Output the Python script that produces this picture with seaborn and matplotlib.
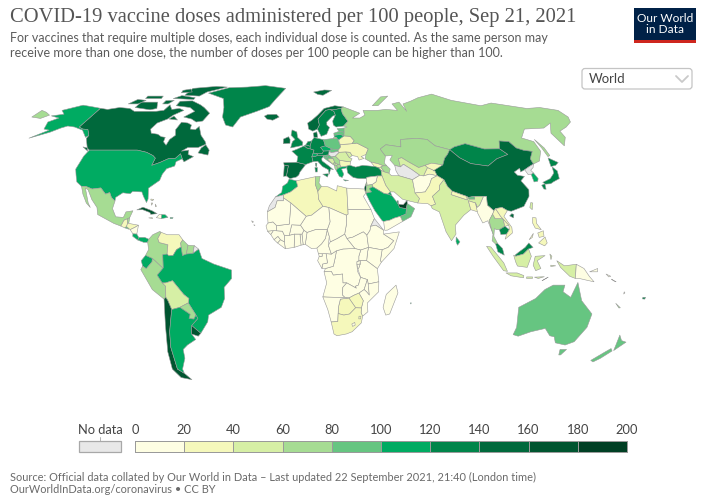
import numpy as np
import pandas as pd
import matplotlib
matplotlib.use("Agg")
import matplotlib.pyplot as plt
from matplotlib.colors import ListedColormap
from matplotlib.patches import FancyBboxPatch, Rectangle
import seaborn as sns

# --- 1. TEXT & LEGEND DATA ---
title = "COVID-19 vaccine doses administered per 100 people, Sep 21, 2021"
subtitle = ("For vaccines that require multiple doses, each individual dose is counted. As the same person may\n"
            "receive more than one dose, the number of doses per 100 people can be higher than 100.")
source = ("Source: Official data collated by Our World in Data \u2013 Last updated 22 September 2021, 21:40 (London time)\n"
          "OurWorldInData.org/coronavirus \u2022 CC BY")
bin_edges = [0, 20, 40, 60, 80, 100, 120, 140, 160, 180, 200]
bin_colors = ["#fefee3", "#f5f8bb", "#d6efa5", "#a6dc93", "#66c581", "#00ab62",
              "#00854a", "#00693c", "#005530", "#003f24"]
no_data_color = "#e8e8e8"

# --- 2. DOSES PER 100 PEOPLE (read from the map colours, None = no data) ---
doses = {
    "Canada": 145, "USA": 110, "Greenland": 125, "Iceland": 145, "Mexico": 70, "Guatemala": 30, "Belize": 70,
    "El Salvador": 90, "Honduras": 30, "Nicaragua": 10, "Costa Rica": 110, "Panama": 110, "Cuba": 165, "Haiti": 1,
    "Dominican Rep": 110, "Jamaica": 30, "Puerto Rico": 110, "Bahamas": 30, "Colombia": 70, "Venezuela": 30,
    "Guyana": 70, "Suriname": 70,
    "French Guiana": None, "Ecuador": 110, "Peru": 70, "Brazil": 110, "Bolivia": 50, "Paraguay": 70, "Chile": 165,
    "Argentina": 110, "Uruguay": 165, "Spain": 145, "Portugal": 145, "France": 125, "UK": 130, "Ireland": 145,
    "Netherlands": 125, "Belgium": 130, "Germany": 125, "Denmark": 145, "Switzerland": 110, "Austria": 120,
    "Italy": 130, "Czechia": 110, "Poland": 95, "Slovakia": 85, "Hungary": None, "Slovenia": 95, "Croatia": 85,
    "Bosnia": 45, "Serbia": 75, "Montenegro": 65, "Kosovo": 55, "Albania": 65, "N Macedonia": 65, "Greece": 110,
    "Bulgaria": 35, "Romania": 50, "Moldova": 40, "Ukraine": 30, "Belarus": 30, "Lithuania": 100, "Latvia": 90,
    "Estonia": 90, "Norway": 145, "Sweden": 125, "Finland": 130, "Russia": 70, "Georgia": 30, "Armenia": 30,
    "Azerbaijan": 60, "Turkey": 125, "Kazakhstan": 70, "Uzbekistan": 40, "Turkmenistan": None, "Tajikistan": 30,
    "Kyrgyzstan": 30, "Mongolia": 125, "China": 150, "Taiwan": 50, "North Korea": None, "South Korea": 110,
    "Japan": 125, "Iran": 50, "Iraq": 25, "Syria": 15, "Israel": 170, "Jordan": 70, "Lebanon": 60,
    "Saudi Arabia": 110, "Kuwait": 100, "Qatar": 130, "UAE": 185, "Oman": 90, "Yemen": 5, "Afghanistan": 10,
    "Pakistan": 30, "India": 50, "Nepal": 30, "Bhutan": 90, "Bangladesh": 25, "Sri Lanka": 110, "Myanmar": 15,
    "Thailand": 65, "Laos": 30, "Cambodia": 125, "Vietnam": 35, "Malaysia": 130, "Indonesia": 50, "PNG": 5,
    "Philippines": 35, "Australia": 85, "New Zealand": 90, "Fiji": 120, "New Caledonia": 70, "Vanuatu": 10,
    "Solomon Islands": 5, "Morocco": 110, "Western Sahara": None, "Algeria": 25, "Tunisia": 60, "Libya": 25,
    "Egypt": 15, "Sudan": 5, "South Sudan": 2, "Eritrea": None, "Ethiopia": 5, "Somalia": 2, "Kenya": 5, "Uganda": 5,
    "Tanzania": 2, "Rwanda": 15, "Burundi": 1, "DR Congo": 1, "Congo": 5, "Gabon": 10, "Eq Guinea": 15,
    "Cameroon": 3, "CAR": 2, "Chad": 1, "Niger": 2, "Nigeria": 3, "Benin": 3, "Togo": 10, "Ghana": 5,
    "Burkina Faso": 3, "Ivory Coast": 8, "Liberia": 3, "Sierra Leone": 3, "Guinea": 10, "Guinea-Bissau": 2,
    "Senegal": 10, "Mali": 2, "Mauritania": 10, "Cape Verde": 10, "Angola": 10, "Zambia": 5, "Malawi": 5,
    "Mozambique": 10, "Zimbabwe": 35, "Botswana": 30, "Namibia": 15, "South Africa": 30, "Lesotho": 15,
    "Eswatini": 25, "Madagascar": 1, "Mauritius": 110,
}

# --- 3. COUNTRY OUTLINES (lon, lat, simplified by hand) ---
outlines = {
    "Canada": [
        [(-141,69.6),(-135,69),(-128,70),(-120,69.5),(-115,68),(-108,68),(-100,68),(-95,68.5),(-94,71.5),(-90,69),(-85,69.5),(-81,68.5),(-86,66),(-88,64),(-93,62),(-94.5,59),(-92.5,57),(-88,56.5),(-85,55.3),(-82.3,55),(-82,52.9),(-79.5,51.3),(-79,54),(-76.7,56),(-78.5,58.7),(-77.5,62.4),(-73,62),(-70,61),(-69.5,59),(-66,58.7),(-64.5,60.3),(-61,56),(-57,53),(-56,51.8),(-60,50.2),(-66,50.2),(-69,48.5),(-65,49),(-64.5,47),(-61,46),(-65.5,43.6),(-67,45),(-69,47.3),(-71,45.2),(-75,45),(-79,43.3),(-83,42),(-82.5,45.3),(-84.5,46.5),(-89,48),(-95,49),(-123,49),(-125,50),(-130,54.5),(-130,55.9),(-134,58.8),(-137.5,59),(-141,60)],
        [(-80,73.7),(-72,71.5),(-68,70),(-62,67),(-64,63),(-68,62.5),(-72,64),(-78,65),(-73,68),(-78,70),(-89,71),(-89,73.5)],
        [(-117,70),(-105,68.8),(-101,69.5),(-105,73),(-117,73)], [(-125,72),(-118,72),(-115,74),(-122,74.5)],
        [(-90,77),(-78,76.5),(-75,79),(-62,82.5),(-72,83),(-90,81.5)], [(-96,75),(-80,74.5),(-80,75.5),(-92,76.8)],
        [(-117,75),(-105,75),(-106,76.5),(-118,76.5)], [(-95,78.5),(-87,79),(-91,81),(-96,80)],
        [(-100,72),(-96,72),(-94,74),(-100,73.8)], [(-59,47.7),(-53,46.7),(-53,49),(-56,51.5),(-58,50)],
        [(-128,50.5),(-123.5,48.5),(-125,50)], [(-87,64),(-81,63.5),(-85,65.5)],
    ],
    "USA": [
        [(-123,49),(-95,49),(-89,48),(-84.5,46.5),(-82.5,45.3),(-83,42),(-79,43.3),(-75,45),(-71,45.2),(-69,47.3),(-67,45),(-70,43.7),(-70,41.7),(-74,40.5),(-75.5,38),(-76,35.2),(-81,31.7),(-80,26.8),(-80.5,25.2),(-82.7,28),(-84,30),(-89,30.2),(-90,29.2),(-94,29.6),(-97.3,27.5),(-97.2,25.9),(-99.5,27.5),(-101,29.7),(-103,29),(-106.5,31.8),(-111,31.3),(-114.8,32.5),(-117.1,32.5),(-120.5,34.5),(-122.5,37.5),(-124.3,40.3),(-124,46.2)],
        [(-141,69.6),(-148,70.4),(-156.5,71.3),(-166,68.5),(-161,66.5),(-168,65.6),(-161,64.5),(-165,62.5),(-162,59),(-158,58.5),(-165,54.6),(-156,57.5),(-152,59.5),(-149,60.5),(-144,60),(-137,58.5),(-131,55),(-130,55.9),(-134,58.8),(-137.5,59),(-141,60)],
    ],
    "Greenland": [[(-73,78.3),(-60,82),(-45,82.5),(-30,83.6),(-12,81.5),(-18,75),(-22,70.5),(-30,68),(-40,65),(-43,60),(-48,61),(-52,65),(-54,70),(-58,75)]],
    "Iceland": [[(-24,65.5),(-22,64),(-18,63.4),(-14,65),(-16,66.4),(-22,66.3)]],
    "Mexico": [[(-117.1,32.5),(-114.8,32.5),(-111,31.3),(-106.5,31.8),(-103,29),(-101,29.7),(-99.5,27.5),(-97.2,25.9),(-97.8,22.5),(-95.5,18.8),(-91.5,18.5),(-90.5,21),(-87,21.5),(-88.2,18.4),(-89.2,17.9),(-91,17.2),(-92.2,14.6),(-96,15.8),(-105,19.8),(-106,23),(-109.5,26.5),(-113,31),(-114.7,31.7),(-111,25),(-109.5,23),(-112,25),(-115,29)]],
    "Guatemala": [[(-92.2,14.6),(-91,17.2),(-89.2,17.9),(-88.9,15.9),(-89.3,14.4),(-90.1,13.8)]],
    "Belize": [[(-89.2,17.9),(-88.2,18.4),(-88.3,16),(-88.9,15.9)]],
    "El Salvador": [[(-90.1,13.8),(-89.3,14.4),(-87.7,13.8),(-88,13.2)]],
    "Honduras": [[(-89.3,14.4),(-88.9,15.9),(-83.2,15),(-85,14),(-87.3,13)]],
    "Nicaragua": [[(-87.3,13),(-85,14),(-83.2,15),(-83.7,11),(-85.7,11.1)]],
    "Costa Rica": [[(-85.7,11.1),(-83.7,11),(-82.6,9.5),(-83,8.3),(-85.7,10)]],
    "Panama": [[(-83,8.3),(-82.6,9.5),(-79.5,9.5),(-77.4,8.7),(-78,7.3),(-80,7.3)]],
    "Cuba": [[(-85,21.9),(-82,23.1),(-77,21.5),(-74.2,20.2),(-77.5,19.9),(-78,20.7),(-82,22)]],
    "Haiti": [[(-74.4,18.4),(-71.7,18),(-71.7,19.8),(-73,19.9)]],
    "Dominican Rep": [[(-71.7,18),(-68.4,18.5),(-69.9,19.7),(-71.7,19.8)]],
    "Jamaica": [[(-78.3,18.3),(-76.3,18),(-76.5,18.4)]],
    "Puerto Rico": [[(-67.2,18.5),(-65.7,18.4),(-66,18),(-67.2,18)]],
    "Bahamas": [[(-78.5,26.8),(-77,26.6),(-77.5,26),(-78.5,26.4)], [(-78,25),(-77.2,25),(-77.6,24)], [(-75.8,24.5),(-75,23.5),(-75.5,23.3)]],
    "Colombia": [[(-77.4,8.7),(-75.5,10.7),(-72,12.2),(-71.3,11.8),(-72.8,9),(-72,7.2),(-67.5,6.2),(-67.8,2),(-70,1.7),(-69.8,-4.2),(-70.7,-3.8),(-74,-1),(-75.3,0),(-78.8,1.4),(-77.3,4),(-77.9,7.3)]],
    "Venezuela": [[(-71.3,11.8),(-68,10.7),(-62,10.7),(-60,8.4),(-61,7),(-60.7,5.2),(-63,4),(-64.8,1.3),(-67,1.2),(-67.8,2),(-67.5,6.2),(-72,7.2),(-72.8,9)]],
    "Guyana": [[(-60,8.4),(-57.2,6),(-58,2),(-60,1.3),(-60.7,5.2),(-61,7)]],
    "Suriname": [[(-57.2,6),(-54,5.8),(-54.6,2.3),(-58,2)]],
    "French Guiana": [[(-54,5.8),(-51.7,4.2),(-54.6,2.3)]],
    "Ecuador": [[(-78.8,1.4),(-75.3,0),(-75.5,-1.5),(-78.5,-4.6),(-80.3,-3.4),(-81,-1)]],
    "Peru": [[(-80.3,-3.4),(-78.5,-4.6),(-75.5,-1.5),(-75.3,0),(-74,-1),(-70.7,-3.8),(-69.8,-4.2),(-73,-7.5),(-70.6,-11),(-69,-12.5),(-69.4,-17.5),(-70.4,-18.3),(-76,-14),(-81.3,-5)]],
    "Brazil": [[(-51.7,4.2),(-50,0),(-44,-2.5),(-35,-5.2),(-35,-9),(-39,-13),(-39,-18),(-41,-22),(-48,-25.5),(-48.8,-28.5),(-53.4,-33.7),(-57.6,-30.2),(-53.8,-27),(-54.6,-25.5),(-55.5,-24),(-58,-20),(-57.5,-18),(-60,-16.2),(-65.3,-10),(-69,-11),(-70.6,-11),(-73,-7.5),(-69.8,-4.2),(-70,1.7),(-67.8,2),(-67,1.2),(-64.8,1.3),(-63,4),(-60.7,5.2),(-60,1.3),(-58,2),(-54.6,2.3)]],
    "Bolivia": [[(-69,-11),(-65.3,-10),(-60,-16.2),(-57.5,-18),(-58,-20),(-62.6,-22),(-67,-23),(-68.5,-19),(-69.4,-17.5),(-69,-12.5),(-70.6,-11)]],
    "Paraguay": [[(-58,-20),(-55.5,-24),(-54.6,-25.5),(-56,-27.3),(-58.5,-27),(-57.6,-25.2),(-62.6,-22)]],
    "Chile": [[(-70.4,-18.3),(-69.4,-17.5),(-68.5,-19),(-67,-23),(-70,-33),(-71.5,-40),(-72,-50),(-69,-52),(-66,-55),(-72,-54),(-75,-50),(-74,-42),(-71.5,-30)]],
    "Argentina": [[(-67,-23),(-62.6,-22),(-57.6,-25.2),(-58.5,-27),(-56,-27.3),(-54.6,-25.5),(-53.8,-27),(-57.6,-30.2),(-58.4,-34),(-56.8,-36.5),(-62,-39),(-65,-41),(-65.5,-45),(-69,-50),(-69,-52),(-72,-50),(-71.5,-40),(-70,-33)]],
    "Uruguay": [[(-57.6,-30.2),(-53.4,-33.7),(-55,-35),(-58.4,-34)]],
    "Spain": [[(-9.2,43.2),(-1.8,43.4),(3.2,42.4),(0,39),(-0.7,37.6),(-2,36.7),(-5.5,36),(-7.4,37.2),(-7,39.5),(-6.5,41.8),(-8.8,41.9)]],
    "Portugal": [[(-8.8,41.9),(-6.5,41.8),(-7,39.5),(-7.4,37.2),(-9,37)]],
    "France": [[(-1.8,43.4),(3.2,42.4),(7.4,43.7),(6.8,46),(7.6,47.6),(8.2,49),(6,49.6),(4,50),(2.5,51),(-1.5,49.5),(-4.7,48.5),(-1.2,46)], [(8.6,43),(9.5,43),(9.3,41.5),(8.8,41.6)]],
    "UK": [[(-5.5,50),(1.4,51.2),(1.7,52.7),(-1.5,55),(-2,57.6),(-5,58.6),(-5.5,56),(-3,54),(-4.5,53),(-5,51.7)]],
    "Ireland": [[(-10,52),(-6,52.2),(-6,54),(-7,55.3),(-10,54.2)]],
    "Netherlands": [[(3.4,51.4),(6,50.8),(7,53.3),(4.7,53)]],
    "Belgium": [[(2.5,51),(3.4,51.4),(6,50.8),(6,49.6),(4,50)]],
    "Germany": [[(6,50.8),(7,53.3),(8.6,54.9),(14.2,53.9),(15,51),(12.1,50.3),(13.7,48.6),(13,47.5),(9.5,47.5),(7.6,47.6),(8.2,49),(6,49.6)]],
    "Denmark": [[(8.2,57),(10.5,57.7),(10.8,55),(8.6,54.9)]],
    "Switzerland": [[(6.8,46),(7.6,47.6),(9.5,47.5),(10.4,46.6),(8.5,46)]],
    "Austria": [[(9.5,47.5),(13,47.5),(13.7,48.6),(17,48.7),(16.5,46.8),(13.7,46.5),(10.4,46.6)]],
    "Italy": [[(6.8,46),(8.5,46),(10.4,46.6),(13.7,46.5),(12.3,45),(12.5,44),(16,41.8),(18.5,40),(17,40.4),(16,38),(15.7,40),(12.5,41.5),(10,43.9),(7.4,43.7)], [(12.5,38),(15.6,38.2),(15,36.7)], [(8.3,41),(9.7,41),(9.5,39),(8.5,39)]],
    "Czechia": [[(12.1,50.3),(15,51),(18.8,49.5),(17,48.7),(13.7,48.6)]],
    "Poland": [[(14.2,53.9),(19.5,54.4),(23,54.3),(23.5,52.5),(24,50.5),(22.5,49.1),(18.8,49.5),(15,51)]],
    "Slovakia": [[(17,48.7),(18.8,49.5),(22.5,49.1),(22,48.4),(18,47.8)]],
    "Hungary": [[(16.5,46.8),(17,48.7),(18,47.8),(22,48.4),(22.8,48),(20.3,46.2),(18,45.8)]],
    "Slovenia": [[(13.7,46.5),(16.5,46.8),(15.5,45.5),(13.6,45.5)]],
    "Croatia": [[(13.6,45.5),(15.5,45.5),(16.5,46.8),(18,45.8),(19,45),(16,45),(16,44.5),(18.5,42.5),(15,44.5)]],
    "Bosnia": [[(16,45),(19,45),(19.5,43.5),(18.5,42.5),(16,44.5)]],
    "Serbia": [[(19,45),(18,45.8),(20.3,46.2),(22.5,44.3),(22.4,42.3),(21.6,42.4),(20,42.8),(19.5,43.5)]],
    "Montenegro": [[(18.5,42.5),(19.5,43.5),(20,42.8),(19.3,41.9)]],
    "Kosovo": [[(20,42.8),(21.6,42.4),(20.5,42),(19.3,41.9)]],
    "Albania": [[(19.3,41.9),(20.5,42),(21,40.6),(20,39.7),(19.4,40.6)]],
    "N Macedonia": [[(20.5,42),(21.6,42.4),(22.4,42.3),(22.9,41.3),(21,40.6)]],
    "Greece": [[(21,40.6),(22.9,41.3),(26.3,41.7),(26,40.9),(23,40.3),(24,38),(23,36.5),(21.5,37),(20,39.7)], [(23.5,35.5),(26.3,35.2),(24.5,34.9)]],
    "Bulgaria": [[(22.4,42.3),(22.5,44.3),(28.5,43.6),(28,42),(26.3,41.7),(22.9,41.3)]],
    "Romania": [[(22.8,48),(26.5,48.2),(28.2,45.5),(29.6,45),(28.5,43.6),(22.5,44.3),(20.3,46.2)]],
    "Moldova": [[(26.5,48.2),(29,48),(30,46.5),(28.2,45.5)]],
    "Ukraine": [[(22.5,49.1),(24,50.5),(24,51.6),(31,52),(34,52.3),(40,49.6),(38,47),(35,46),(36.5,45.2),(33.5,44.4),(33,46),(30,46.5),(29,48),(26.5,48.2),(22.8,48),(22,48.4)]],
    "Belarus": [[(23.5,53.9),(27,55.7),(30.8,55.5),(32.7,53.4),(31,52),(24,51.6),(23.5,52.5)]],
    "Lithuania": [[(21,56),(25,56.4),(27,55.7),(23.5,53.9),(21,55.2)]],
    "Latvia": [[(21,57),(24.5,57.9),(27.6,57.5),(27,55.7),(25,56.4),(21,56)]],
    "Estonia": [[(23.5,59.2),(28,59.5),(27.6,57.5),(24.5,57.9)]],
    "Norway": [[(5,62),(5.5,59),(8,58),(11,59),(12.5,61),(12,64),(15,66.3),(18,68.5),(21,69),(25,69),(29,69.6),(31,70.3),(25,71),(17,69.5),(12,66),(8,63.5)], [(11,79),(20,80.3),(26,80),(18,77),(14,77.5)]],
    "Sweden": [[(11,59),(13,55.5),(16.5,56.5),(18.8,59.8),(17.3,61),(17.5,62.5),(22,65.5),(24,66),(23.5,68),(21,69),(18,68.5),(15,66.3),(12,64),(12.5,61)]],
    "Finland": [[(24,66),(21.5,63),(21.5,61),(23,60),(28,60.5),(31.5,62.9),(29,66.9),(29,69.6),(25,69),(21,69),(23.5,68)]],
    "Russia": [
        [(28,59.5),(30,60),(28,60.5),(31.5,62.9),(29,66.9),(29,69.6),(31,70.3),(41,67),(35,64.5),(40,64.5),(44,66),(44,68.5),(54,68.5),(60,69),(68,68.5),(67,72),(73,73),(74,68),(75,72),(82,73.5),(90,75.5),(104,77.7),(113,74),(130,71),(140,72.5),(160,69.5),(170,70),(180,68.5),(180,65),(177,62.5),(170,60),(163,58),(162,55),(156.5,51),(156,57),(163,62),(155,59.5),(142,59),(135,54.7),(140.5,53),(140,48.5),(135.5,44),(131,42.6),(131,45),(135,48.4),(130.5,48.9),(127,50),(125.5,53),(120,53.3),(117,49.6),(108,49.5),(98.5,52),(91,50.5),(87.5,49.2),(80,51),(77,54),(71,54.5),(61,54),(59.5,50.5),(51,51.5),(47,49.5),(49,46.3),(47.5,43),(48.5,41.8),(46.5,41.8),(44,42.7),(40,43.5),(37,45),(38,47),(40,49.6),(34,52.3),(31,52),(32.7,53.4),(30.8,55.5),(27,55.7),(27.6,57.5)],
        [(-180,68.5),(-175,67.5),(-170,66),(-173,64.3),(-180,65)], [(52,71),(56,71),(68,76.5),(62,76)],
        [(142,54),(143.5,50),(143.5,46.5),(142,46),(142,50)], [(20,54.4),(22.5,54.4),(22.5,55),(21,55.2)],
    ],
    "Georgia": [[(40,43.5),(44,42.7),(46.5,41.8),(45,41.2),(43.5,41),(41.5,41.5)]],
    "Armenia": [[(43.5,41),(45,41.2),(46.5,39),(44.8,39.7)]],
    "Azerbaijan": [[(45,41.2),(46.5,41.8),(48.5,41.8),(50,40.3),(48.9,38.4),(46.5,39)]],
    "Turkey": [[(26.3,41.7),(28,42),(31,41.2),(35,42),(41.5,41.5),(43.5,41),(44.8,39.7),(44.8,37.2),(42.3,37.2),(36.5,36.6),(36,36),(32,36),(29,36.5),(26.3,38.5),(26,40.5)]],
    "Kazakhstan": [[(49,46.3),(47,49.5),(51,51.5),(59.5,50.5),(61,54),(71,54.5),(77,54),(80,51),(87.5,49.2),(85,47),(82.5,45.3),(80,42.2),(74,43),(70,42),(66,41),(61,43.7),(58,45.5),(56,45),(56,41.3),(53,42),(51,44.5),(53,46.5)]],
    "Uzbekistan": [[(56,45),(58,45.5),(61,43.7),(66,41),(70,42),(71,41),(67.5,37.2),(65.5,37.5),(62,40),(58,42.5),(56,41.3)]],
    "Turkmenistan": [[(53,42),(56,41.3),(58,42.5),(62,40),(65.5,37.5),(61,35.5),(54,37.3),(53,39.5)]],
    "Tajikistan": [[(67.5,37.2),(71,41),(74.5,39.5),(75,37.3),(71,38)]],
    "Kyrgyzstan": [[(70,42),(74,43),(80,42.2),(74.5,39.5),(71,41)]],
    "Mongolia": [[(87.5,49.2),(91,50.5),(98.5,52),(108,49.5),(117,49.6),(119.8,47),(112,45),(105,41.7),(96,42.8),(91,45.5)]],
    "China": [
        [(73.5,39.5),(80,42.2),(82.5,45.3),(85,47),(87.5,49.2),(91,45.5),(96,42.8),(105,41.7),(112,45),(119.8,47),(117,49.6),(120,53.3),(125.5,53),(127,50),(130.5,48.9),(135,48.4),(131,45),(131,42.6),(128,41.5),(124.3,40),(121.5,39),(122,40.7),(118,39),(119,37.5),(122.5,37),(119.5,35),(122,31),(121,28),(117,23.5),(110,21.3),(108,21.6),(105.5,23),(102,22.5),(101,21.5),(98,24),(98.5,28),(92,28),(88.8,27.5),(88,28),(81,30.3),(79,32.5),(78,35.5),(75,37.3),(74.5,39.5)],
        [(108.7,19.2),(110.5,18.3),(111,19.8),(110,20.2)],
    ],
    "Taiwan": [[(120,23),(121,22),(122,25),(121,25.2)]],
    "North Korea": [[(124.3,40),(128,41.5),(131,42.6),(129.7,41),(127.5,39.8),(128.3,38.6),(126.7,37.8),(125,37.8)]],
    "South Korea": [[(126.7,37.8),(128.3,38.6),(129.4,36),(128.5,34.8),(126.4,34.5)]],
    "Japan": [[(131,34.3),(136,36),(139.5,38.5),(140.5,41.3),(142,39.5),(140.9,36),(137,34.6),(135,33.7),(132,33.5)], [(140,41.5),(141.5,45.4),(145.5,43.3),(143,42)], [(129.8,33),(131.8,33.7),(131.3,31.2),(130.2,31.3)]],
    "Iran": [[(44.8,39.7),(46.5,39),(48.9,38.4),(50,37.3),(54,37.3),(61,35.5),(61,31.5),(63,27),(61.7,25),(57,26),(54,26.7),(50,30),(48,30),(46,33),(44.8,37.2)]],
    "Iraq": [[(42.3,37.2),(44.8,37.2),(46,33),(48,30),(46.5,29),(44.7,29.2),(39,32.3),(38.7,33.3),(41,34.5)]],
    "Syria": [[(36,36),(36.5,36.6),(42.3,37.2),(41,34.5),(38.7,33.3),(36,33),(36,34.5)]],
    "Lebanon": [[(35.1,33.1),(36,33),(36,34.5)]],
    "Israel": [[(34.3,31.3),(35.1,33.1),(35.7,33),(35,29.6)]],
    "Jordan": [[(35,29.6),(35.7,33),(36,33),(38.7,33.3),(39,32.3),(37,31.5),(38,30)]],
    "Saudi Arabia": [[(34.9,29.4),(38,30),(37,31.5),(39,32.3),(44.7,29.2),(46.5,29),(48.5,28.4),(50,26.5),(51.5,24.5),(52,23),(55.5,22.5),(55,20),(52,19),(48.8,18.2),(46.5,17.3),(43.2,16.7),(42.5,17),(39,21.5),(36.5,26)]],
    "Kuwait": [[(46.5,29),(48,30),(48.5,28.4)]],
    "Qatar": [[(51,24.7),(51.5,24.6),(51.6,26),(51,26)]],
    "UAE": [[(51.5,24.5),(54,24.2),(56.3,26.2),(56.2,24.8),(55.5,22.5),(52,23)]],
    "Oman": [[(56.2,24.8),(59.8,22.5),(57.5,18.8),(53,16.7),(52,19),(55,20),(55.5,22.5)]],
    "Yemen": [[(43.2,16.7),(46.5,17.3),(48.8,18.2),(52,19),(53,16.7),(45,12.8),(43.5,12.7)]],
    "Afghanistan": [[(61,35.5),(65.5,37.5),(67.5,37.2),(71,38),(75,37.3),(71.5,36),(69.5,33),(66.5,30),(61,29.5),(61,31.5)]],
    "Pakistan": [[(61,29.5),(66.5,30),(69.5,33),(71.5,36),(75,37.3),(78,35.5),(75,33),(74.5,31),(70,28),(71,24.5),(68.5,23.7),(67,24.7),(61.7,25),(63,27)]],
    "India": [[(78,35.5),(79,32.5),(81,30.3),(80,28.8),(88,26.4),(88,28),(88.8,27.5),(89,26.8),(92,26.8),(92,28),(97,28),(94,24),(92.5,23),(92,25),(88.5,26),(89,22),(85,19.5),(80,15),(80,11),(77.5,8),(75,12),(73,19),(72.5,21),(69,22.5),(68.5,23.7),(71,24.5),(70,28),(74.5,31),(75,33)]],
    "Nepal": [[(80,28.8),(81,30.3),(88,28),(88,26.4)]],
    "Bhutan": [[(88.8,27.5),(92,28),(92,26.8),(89,26.8)]],
    "Bangladesh": [[(88.5,26),(92,25),(92.5,21),(89,22)]],
    "Sri Lanka": [[(80,9.7),(81.8,7.5),(80.5,6),(79.8,7.5)]],
    "Myanmar": [[(92,25),(92.5,23),(94,24),(97,28),(98.5,28),(98,24),(101,21.5),(100,20),(97.7,17),(99,11),(98,14),(97,17),(94.3,16),(92.3,20.5)]],
    "Thailand": [[(97.7,17),(100,20),(101,18),(105,18),(105.5,14.5),(102.5,13),(100.9,13),(100,13.5),(99.3,10),(101,6.8),(100,6.5),(98.3,8),(99,11)]],
    "Laos": [[(101,21.5),(102,22.5),(104,19),(107.6,15),(105.5,14.5),(105,18),(101,18),(100,20)]],
    "Cambodia": [[(102.5,13),(105.5,14.5),(107.6,13),(106,11),(103,10.8)]],
    "Vietnam": [[(102,22.5),(105.5,23),(108,21.6),(105.7,19),(109,14),(109,11.5),(105,8.7),(106,11),(107.6,13),(107.6,15),(104,19)]],
    "Malaysia": [[(100,6.5),(101,6.8),(103.4,4.5),(104.2,1.5),(101,3)], [(109.7,1.5),(111.4,2.7),(115,5),(117,7),(119,5),(116.7,4.3),(114,2),(110,1)]],
    "Indonesia": [
        [(109,1.5),(110,1),(114,2),(116.7,4.3),(118,1),(116,-4),(111,-3.4),(110,-1.5)], [(95.3,5.5),(97.5,5.2),(104,-2),(106,-5.8),(104,-5.5),(98.5,1)],
        [(105.3,-6.5),(111,-6.5),(114.5,-7.7),(114.4,-8.7),(108,-7.8)], [(120,1),(125,1.3),(121,-1),(123,-4.5),(120.4,-5.5),(119,-3)],
        [(116,-8.3),(119,-8.3),(119,-9),(116,-9)], [(120,-8.4),(125,-8.2),(122,-9)], [(124,-10),(127,-8.4),(125,-9.5)],
        [(131,-1),(135,-3.3),(141,-2.6),(141,-9),(138,-8),(133,-4)], [(127.5,2),(128.5,1),(128,-0.5)], [(128,-3),(130.5,-3.3),(128,-3.6)],
    ],
    "PNG": [[(141,-2.6),(145,-4.5),(148,-8),(150.7,-10.5),(147,-9.8),(143,-9),(141,-9)], [(148,-6),(152,-4.5),(152,-6)]],
    "Philippines": [[(120.5,18.5),(122.2,18.3),(122,15.8),(124,13),(121,13.7),(120,16)], [(122,7),(125.5,9.7),(126.4,7),(125,5.7)], [(122,11.5),(125,12.5),(125,10),(122.5,9.5)], [(117.3,8.5),(119.7,11.3),(119,9.5)]],
    "Australia": [[(114,-22),(122,-18),(126,-14),(130,-12),(136,-12),(135.5,-15),(140,-17.5),(142.5,-10.8),(146,-19),(153,-25),(153,-31),(150,-37.5),(146,-39),(140,-38),(137.7,-35.3),(135,-34.8),(131,-31.5),(124,-33),(118,-35),(115,-34.3),(115.5,-31)], [(144.7,-41),(148.3,-41),(147,-43.5),(146,-43.5)]],
    "New Zealand": [[(172.7,-34.5),(175.5,-37),(178.5,-37.7),(175,-41.5),(174,-39)], [(172.7,-40.6),(174.3,-41.7),(171,-45),(168.5,-46.7),(166.5,-46),(171,-42)]],
    "Fiji": [[(177.3,-17.5),(178.7,-17.5),(178.5,-18.3),(177.3,-18.2)]],
    "New Caledonia": [[(164,-20.2),(167,-22.2),(166.3,-22.3)]],
    "Vanuatu": [[(167,-15),(167.5,-15.5),(167,-16)]],
    "Solomon Islands": [[(156.5,-7),(159,-8),(158,-8.3)], [(159.5,-9.3),(162,-10.5),(160.5,-10)]],
    "Morocco": [[(-5.9,35.8),(-2,35),(-1.2,32.5),(-5,30),(-8.7,28.7),(-13,27.7),(-9.7,29.8),(-9.3,32.5),(-6.8,34)]],
    "Western Sahara": [[(-13,27.7),(-8.7,28.7),(-8.7,27.3),(-8.7,26),(-12,26),(-13,23),(-17,21),(-16,23.8)]],
    "Algeria": [[(-2,35),(8.6,36.9),(8.2,33.5),(9.5,30.2),(9.9,26.5),(12,23.5),(6,19.5),(3.2,19),(-4.8,25),(-8.7,27.3),(-8.7,28.7),(-5,30),(-1.2,32.5)]],
    "Tunisia": [[(8.6,36.9),(11,37),(10.2,34),(11.5,32.5),(9.5,30.2),(8.2,33.5)]],
    "Libya": [[(11.5,32.5),(15,32.3),(19.5,30.4),(20,32.8),(25,31.7),(25,20),(24,19.5),(15,23),(12,23.5),(9.9,26.5),(9.5,30.2)]],
    "Egypt": [[(25,31.7),(34.3,31.3),(34.9,29.4),(33.5,28),(37,22),(25,22)]],
    "Sudan": [[(25,22),(37,22),(38.5,18),(36.4,14.5),(36,12.7),(34.3,10.5),(32.5,12),(27,9.6),(24,9),(22.9,11),(24,15.7),(24,19.5),(25,20)]],
    "South Sudan": [[(24,9),(27,9.6),(32.5,12),(34.3,10.5),(35,5),(31,3.8),(28,4.5)]],
    "Eritrea": [[(36.4,14.5),(38.5,18),(43,12.7),(39,15)]],
    "Ethiopia": [[(36,12.7),(36.4,14.5),(39,15),(43,12.7),(42.9,11),(48,8),(45,5),(41.9,3.9),(35,5),(34.3,10.5)]],
    "Somalia": [[(42.9,11),(51,12),(48,4.5),(41.5,-1.7),(41,-1),(41.9,3.9),(45,5),(48,8)]],
    "Kenya": [[(35,5),(41.9,3.9),(41,-1),(41.5,-1.7),(39.5,-4.6),(34,-1),(34.5,3)]],
    "Uganda": [[(31,3.8),(35,5),(34.5,3),(34,-1),(30,-1),(30,1)]],
    "Tanzania": [[(30.7,-1),(34,-1),(39.5,-4.6),(40.4,-10.5),(35,-11.5),(34.5,-9.5),(31,-8.5),(29.5,-4.5),(30,-4.3),(30.7,-2.5)]],
    "Rwanda": [[(29,-1.4),(30.7,-1),(30.7,-2.5),(29,-2.7)]],
    "Burundi": [[(29,-2.7),(30.7,-2.5),(30,-4.3),(29.5,-4.5)]],
    "DR Congo": [[(12.3,-6),(13,-4.5),(17,-3.5),(18,0.5),(18.6,3.5),(22,4.3),(28,4.5),(31,3.8),(30,1),(30,-1),(29,-1.4),(29,-2.7),(29.5,-6),(31,-8.5),(30,-12),(28.5,-12.5),(29,-13.4),(24,-11),(22,-11),(21.8,-7),(17,-7.5),(16,-5.8)]],
    "Congo": [[(11.2,-4.5),(13,-4.5),(17,-3.5),(18,0.5),(18.6,3.5),(16,2),(13.3,2.2),(14,-2),(11.5,-2.5)]],
    "Gabon": [[(9,-1),(9.8,1),(11.3,1),(11.3,2.2),(13.3,2.2),(14,-2),(11.5,-2.5),(11.2,-4.5)]],
    "Eq Guinea": [[(9.4,2.2),(11.3,2.2),(11.3,1),(9.8,1)]],
    "Cameroon": [[(8.6,4.7),(9.4,2.2),(13.3,2.2),(16,2),(14.5,6),(15,10),(14,13),(13,9),(11,6.6)]],
    "CAR": [[(14.5,6),(16,2),(18.6,3.5),(22,4.3),(28,4.5),(24,9),(22.9,11),(19,9),(15.5,7.5)]],
    "Chad": [[(14,13),(15,10),(15.5,7.5),(19,9),(22.9,11),(24,15.7),(24,19.5),(15,23),(15.5,16.5)]],
    "Niger": [[(0.2,15),(3.2,19),(6,19.5),(12,23.5),(15,23),(15.5,16.5),(14,13),(8,13),(3.6,11.7),(2,12.7)]],
    "Nigeria": [[(2.7,6.4),(3.6,11.7),(8,13),(14,13),(13,9),(11,6.6),(8.6,4.7),(6,4.4)]],
    "Benin": [[(1.6,6.2),(2.7,6.4),(3.6,11.7),(2,12.7),(1,11)]],
    "Togo": [[(0.5,6),(1.6,6.2),(1,11),(0,11)]],
    "Ghana": [[(-3,5),(0.5,6),(0,11),(-2.8,11)]],
    "Burkina Faso": [[(-5.5,10.4),(-2.8,11),(1,11),(2,12.7),(0.2,15),(-4.3,15.2)]],
    "Ivory Coast": [[(-7.5,4.4),(-3,5),(-2.8,11),(-5.5,10.4),(-8,10.4),(-8,7.5)]],
    "Liberia": [[(-11.5,7),(-7.5,4.4),(-8,7.5),(-10,8.5)]],
    "Sierra Leone": [[(-13.3,8.5),(-11.5,7),(-10,8.5),(-11.3,10)]],
    "Guinea": [[(-15,10.8),(-13.3,8.5),(-11.3,10),(-10,8.5),(-8,7.5),(-8,10.4),(-9,12.3),(-13.7,12.6)]],
    "Guinea-Bissau": [[(-16.7,12.3),(-15,10.8),(-13.7,12.6)]],
    "Senegal": [[(-17.5,14.7),(-16.5,16),(-14,16.5),(-12,14.8),(-12,12.5),(-13.7,12.6),(-16.7,12.3)]],
    "Mali": [[(-12,14.8),(-5.5,15.5),(-4.8,25),(3.2,19),(0.2,15),(-4.3,15.2),(-5.5,10.4),(-8,10.4),(-9,12.3),(-12,12.5)]],
    "Mauritania": [[(-17,21),(-13,23),(-12,26),(-8.7,26),(-8.7,27.3),(-4.8,25),(-5.5,15.5),(-12,14.8),(-14,16.5),(-16.5,16)]],
    "Cape Verde": [[(-25,17),(-24,16.5),(-24.5,16.2)], [(-23.8,15.2),(-23.2,15),(-23.5,14.8)]],
    "Angola": [[(12.3,-6),(16,-5.8),(17,-7.5),(21.8,-7),(22,-11),(24,-11),(22,-13),(22,-16.5),(23.4,-17.6),(14,-17.4),(11.8,-17.3),(13.7,-11)]],
    "Zambia": [[(24,-11),(29,-13.4),(28.5,-12.5),(30,-12),(31,-8.5),(34.5,-9.5),(33,-14),(30.4,-15.6),(28,-16.5),(25.3,-17.8),(23.4,-17.6),(22,-16.5),(22,-13)]],
    "Malawi": [[(34.5,-9.5),(35,-11.5),(35.8,-16.5),(34.3,-15),(33,-14)]],
    "Mozambique": [[(35,-11.5),(40.4,-10.5),(40.5,-15),(35,-20),(35.5,-24),(32.9,-26),(32,-24.5),(32,-22.3),(32.8,-19),(30.4,-15.6),(33,-14),(34.3,-15),(35.8,-16.5)]],
    "Zimbabwe": [[(25.3,-17.8),(28,-16.5),(30.4,-15.6),(32.8,-19),(32,-22.3),(29,-22.2)]],
    "Botswana": [[(20,-22),(20.9,-18.3),(25.3,-17.8),(29,-22.2),(26,-25),(23,-25.5),(20,-24.8)]],
    "Namibia": [[(11.8,-17.3),(14,-17.4),(23.4,-17.6),(25.3,-17.8),(20.9,-18.3),(20,-22),(20,-28.4),(16.5,-28.6),(14.5,-23)]],
    "South Africa": [[(16.5,-28.6),(20,-28.4),(20,-24.8),(23,-25.5),(26,-25),(29,-22.2),(32,-22.3),(32,-24.5),(32.9,-26),(32.5,-29),(28,-33),(25,-34),(20,-34.8),(18.3,-34)]],
    "Lesotho": [[(27.5,-29.5),(29,-28.8),(29.3,-30),(28,-30.6)]],
    "Eswatini": [[(31,-26),(32,-26),(32,-27.2),(31,-27.2)]],
    "Madagascar": [[(49.3,-12),(50.5,-15.5),(47,-25),(45,-25.5),(43.3,-22),(44.5,-16.2)]],
    "Mauritius": [[(57.3,-20),(57.8,-20),(57.6,-20.5)]],
}

# Robinson projection table, every 5 degrees of latitude
rob_lat = np.arange(0, 95, 5)
rob_x = [1, .9986, .9954, .99, .9822, .973, .96, .9427, .9216, .8962, .8679, .835, .7986, .7597, .7186, .6732, .6213, .5722, .5322]
rob_y = [0, .062, .124, .186, .248, .31, .372, .434, .4958, .5571, .6176, .6769, .7346, .7903, .8435, .8936, .9394, .9761, 1]


def project(points):
    lon, lat = np.array(points, dtype=float).T
    x = 300 + 1.961 * lon * np.interp(np.abs(lat), rob_lat, rob_x)
    y = 258.5 - 179 * np.sign(lat) * np.interp(np.abs(lat), rob_lat, rob_y)
    return x, y


# --- 4. BIN THE VALUES ---
df = pd.DataFrame({"country": list(doses), "doses": pd.to_numeric(pd.Series(list(doses.values())))})
df["bin"] = pd.cut(df["doses"], bins=bin_edges, labels=False, right=False)
df["color"] = df["bin"].map(lambda b: no_data_color if pd.isna(b) else bin_colors[int(b)])

# --- 5. FIGURE (one axes in pixel units, top-left origin) ---
sns.set_theme(style="white")
plt.rcParams["font.family"] = ["Lato", "DejaVu Sans"]
fig = plt.figure(figsize=(7.09, 4.99), dpi=100)
ax = fig.add_axes([0, 0, 1, 1])
ax.set_xlim(0, 709)
ax.set_ylim(499, 0)
ax.axis("off")

for _, row in df.iterrows():
    for poly in outlines[row["country"]]:
        xs, ys = project(poly)
        ax.fill(xs, ys, facecolor=row["color"], edgecolor="#999999", linewidth=0.4, joinstyle="round")

# --- 6. HEADER ---
ax.text(10, 17.5, title, family="Liberation Serif", fontsize=14.8, color="#555555", va="center")
ax.text(10, 45.5, subtitle, fontsize=9.0, color="#5b5b5b", va="center", linespacing=1.25)

ax.add_patch(Rectangle((634, 8), 62, 35, facecolor="#002147", edgecolor="none"))
ax.add_patch(Rectangle((634, 40), 62, 3, facecolor="#ce261e", edgecolor="none"))
ax.text(665, 24, "Our World\nin Data", color="white", fontsize=8.6, ha="center", va="center", linespacing=1.05)

ax.add_patch(FancyBboxPatch((582, 68.5), 110, 20.5, boxstyle="round,pad=0,rounding_size=3",
                            facecolor="white", edgecolor="#c4c4c4", linewidth=0.9))
ax.text(589, 79, "World", fontsize=9.5, color="#444444", va="center")
ax.plot([676, 682, 688], [76, 82, 76], color="#c9c9c9", linewidth=1.3)

# --- 7. LEGEND ---
ax.add_patch(Rectangle((79, 441), 42, 10.5, facecolor=no_data_color, edgecolor="#a8a8a8", linewidth=0.9))
ax.text(100, 430, "No data", fontsize=9.3, color="#444444", ha="center", va="center")
ax.plot([100, 100], [437, 441], color="#a8a8a8", linewidth=0.6)

cax = fig.add_axes([135 / 709, 1 - 451.5 / 499, 492 / 709, 10.5 / 499])
sns.heatmap(np.arange(len(bin_colors)).reshape(1, -1), ax=cax, cmap=ListedColormap(bin_colors), cbar=False,
            linewidths=0.7, linecolor="#9a9a9a", clip_on=False)
cax.xaxis.tick_top()
cax.set_xticks(np.arange(len(bin_edges)))
cax.set_xticklabels(bin_edges, rotation=0, fontsize=9.3, color="#444444")
cax.set_yticks([])
cax.tick_params(axis="x", length=0, pad=3.5)

# --- 8. FOOTER ---
ax.text(10, 483.5, source, fontsize=7.95, color="#6a6a6a", va="center", linespacing=1.15)

fig.savefig("out.png", dpi=100)
